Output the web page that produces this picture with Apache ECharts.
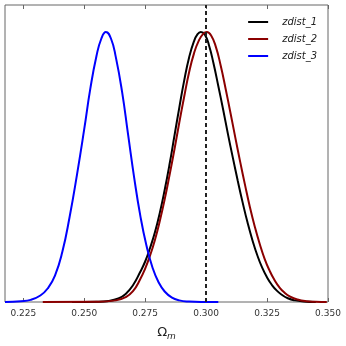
<!DOCTYPE html>
<html>
<head>
<meta charset="utf-8">
<script src="https://cdn.jsdelivr.net/npm/echarts@6/dist/echarts.min.js"></script>
<style>
    html,body{margin:0;padding:0;background:#fff;}
    #chart{width:346px;height:346px;}
</style>
</head>
<body>
<div id="chart"></div>
<script>
// values: [Omega_m, relative density]
var zdist1 = [
    [0.2450,0.000],[0.2550,0.001],[0.2600,0.004],[0.2640,0.013],[0.2670,0.030],
    [0.2700,0.062],[0.2730,0.112],[0.2750,0.150],[0.2770,0.200],[0.2790,0.258],
    [0.2810,0.330],[0.2830,0.415],[0.2850,0.510],[0.2870,0.615],[0.2890,0.720],
    [0.2910,0.820],[0.2930,0.905],[0.2950,0.965],[0.2965,0.992],[0.2978,1.000],
    [0.2995,0.990],[0.3012,0.950],[0.3030,0.885],[0.3050,0.800],[0.3070,0.712],
    [0.3090,0.620],[0.3110,0.533],[0.3130,0.448],[0.3150,0.368],[0.3170,0.294],
    [0.3190,0.229],[0.3210,0.173],[0.3230,0.127],[0.3250,0.091],[0.3270,0.063],
    [0.3290,0.042],[0.3310,0.027],[0.3335,0.014],[0.3365,0.006],[0.3400,0.002],
    [0.3450,0.000]
];
var zdist2 = [
    [0.2330,0.000],[0.2550,0.001],[0.2630,0.006],[0.2670,0.018],[0.2700,0.040],
    [0.2730,0.085],[0.2750,0.124],[0.2770,0.172],[0.2790,0.230],[0.2810,0.300],
    [0.2830,0.380],[0.2850,0.470],[0.2870,0.565],[0.2890,0.665],[0.2910,0.760],
    [0.2930,0.850],[0.2950,0.920],[0.2970,0.968],[0.2988,0.993],[0.3003,1.000],
    [0.3020,0.988],[0.3040,0.945],[0.3060,0.875],[0.3080,0.790],[0.3100,0.700],
    [0.3120,0.608],[0.3140,0.518],[0.3160,0.432],[0.3180,0.350],[0.3200,0.278],
    [0.3220,0.215],[0.3240,0.160],[0.3260,0.117],[0.3280,0.082],[0.3300,0.055],
    [0.3320,0.036],[0.3345,0.020],[0.3375,0.009],[0.3410,0.003],[0.3450,0.001],
    [0.3495,0.000]
];
var zdist3 = [
    [0.2175,0.000],[0.2240,0.003],[0.2280,0.008],[0.2320,0.024],[0.2350,0.050],
    [0.2380,0.098],[0.2410,0.185],[0.2440,0.315],[0.2470,0.470],[0.2500,0.640],
    [0.2525,0.790],[0.2550,0.910],[0.2570,0.975],[0.2589,1.000],[0.2610,0.975],
    [0.2630,0.905],[0.2655,0.780],[0.2680,0.620],[0.2705,0.460],[0.2730,0.320],
    [0.2755,0.210],[0.2780,0.128],[0.2805,0.073],[0.2830,0.039],[0.2860,0.016],
    [0.2890,0.006],[0.2930,0.0015],[0.2980,0.000],[0.3050,0.000]
];
var seriesNames = ['zdist_1','zdist_2','zdist_3'];
var xTicks = [0.225,0.250,0.275,0.300,0.325,0.350];
var fiducial = 0.300;

var colors = ['#000000','#8b0000','#0000ff'];
var allData = [zdist1, zdist2, zdist3];

var myChart = echarts.init(document.getElementById('chart'));

var series = [];
for(var i in allData){
    var ser = {
        name:seriesNames[i],
        type:'line',
        data:allData[i],
        smooth:true,
        showSymbol:false,
        lineStyle:{color:colors[i],width:2},
        itemStyle:{color:colors[i]},
        z:3
    };
    if(i==0){
        ser.markLine = {
            silent:true,
            symbol:['none','none'],
            label:{show:false},
            lineStyle:{color:'#222',type:[4,3],width:2},
            data:[{xAxis:fiducial}]
        };
    }
    series.push(ser);
}

var tickFmt = function(v){ return v.toFixed(3); };

myChart.setOption({
    animation:false,
    grid:{left:5,right:18,top:5,bottom:40,show:true,borderColor:'#666',borderWidth:1},
    legend:{
        data:seriesNames,
        orient:'vertical',
        right:24,
        top:10,
        itemWidth:20,
        itemHeight:2,
        itemGap:3,
        icon:'rect',
        textStyle:{fontStyle:'italic',fontSize:10,lineHeight:14,color:'#222',fontFamily:'DejaVu Sans',padding:[0,0,0,9]}
    },
    xAxis:[
        {
            type:'value',
            min:0.2175,
            max:0.35,
            splitLine:{show:false},
            axisLine:{show:false},
            axisTick:{show:true,inside:true,length:4,lineStyle:{color:'#666'},customValues:xTicks},
            axisLabel:{show:true,fontSize:9,color:'#333',fontFamily:'DejaVu Sans',margin:7,customValues:xTicks,formatter:tickFmt},
            name:'{a|Ω}{b|m}',
            nameLocation:'middle',
            nameGap:22,
            nameTextStyle:{
                rich:{
                    a:{fontSize:13,color:'#222',fontFamily:'DejaVu Sans'},
                    b:{fontSize:9,color:'#222',fontStyle:'italic',fontFamily:'DejaVu Sans',padding:[8,0,0,0]}
                }
            }
        },
        {
            type:'value',
            position:'top',
            min:0.2175,
            max:0.35,
            splitLine:{show:false},
            axisLine:{show:false},
            axisTick:{show:true,inside:true,length:4,lineStyle:{color:'#666'},customValues:xTicks},
            axisLabel:{show:false}
        }
    ],
    yAxis:{
        type:'value',
        min:0,
        max:1.1,
        splitLine:{show:false},
        axisLine:{show:false},
        axisTick:{show:false},
        axisLabel:{show:false}
    },
    series:series
});
</script>
</body>
</html>
